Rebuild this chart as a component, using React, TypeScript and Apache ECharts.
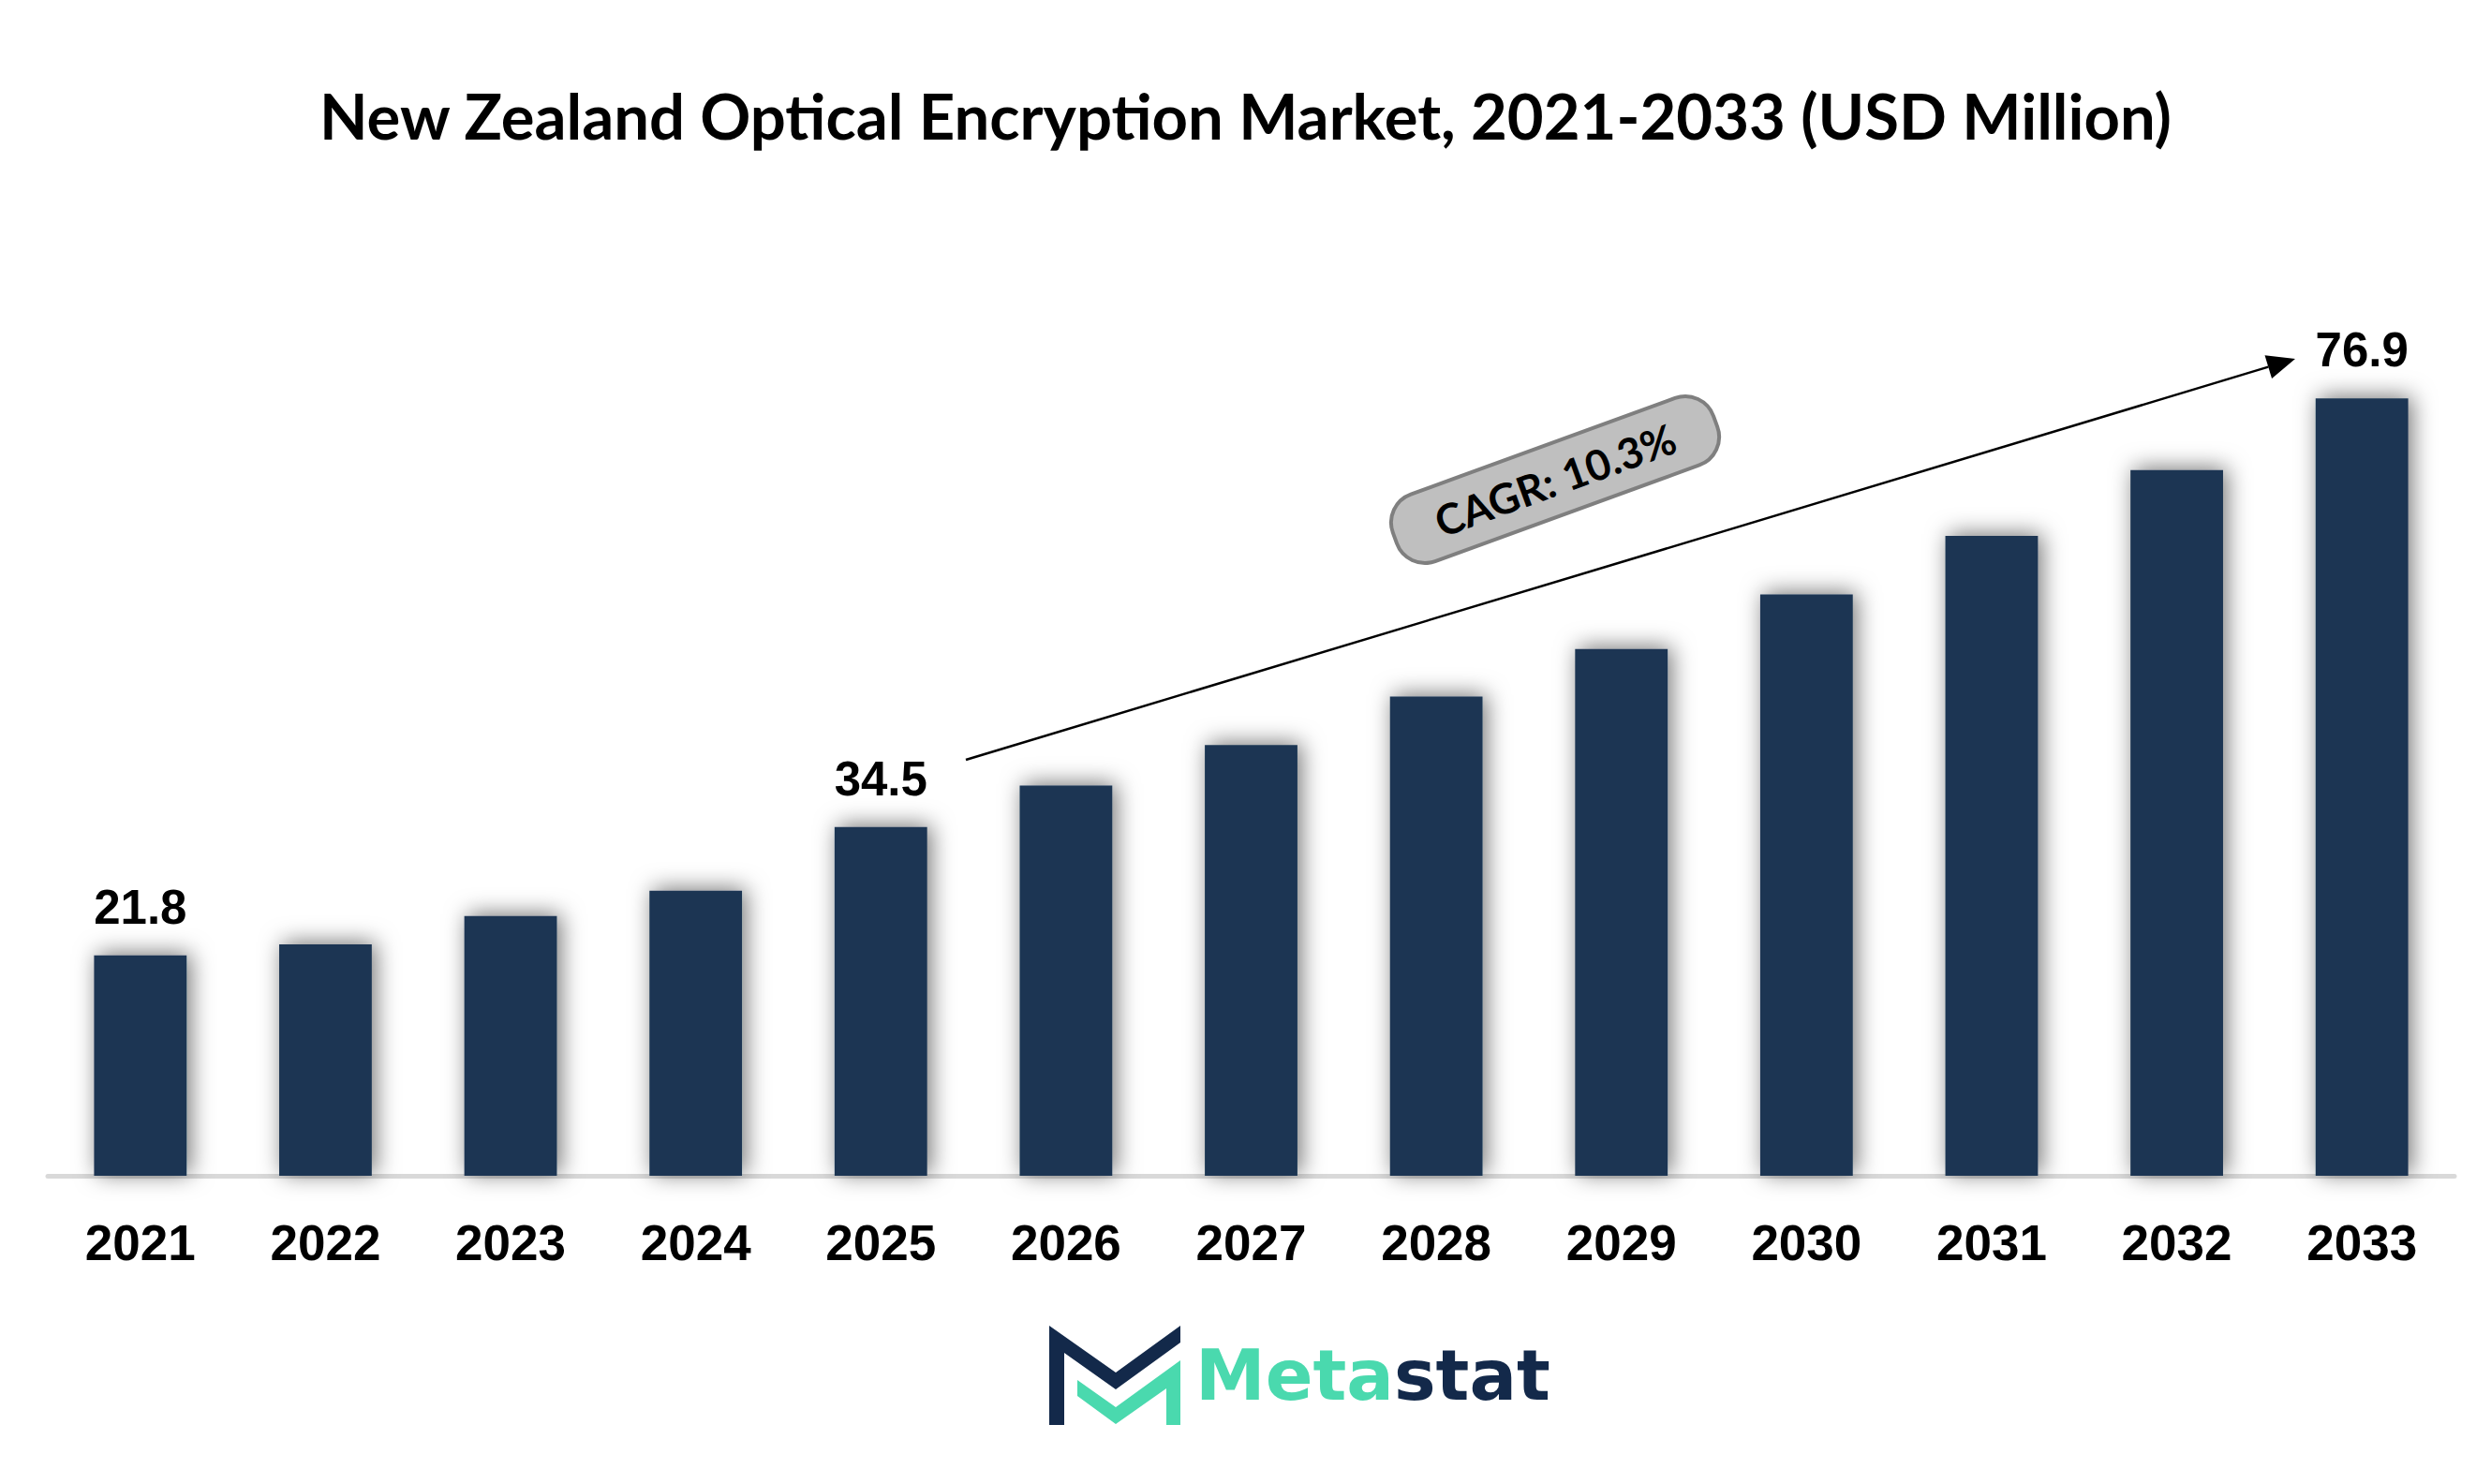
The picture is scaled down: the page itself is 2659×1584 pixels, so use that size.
import React, { useEffect, useRef } from "react";
import * as echarts from "echarts";

const years = ["2021", "2022", "2023", "2024", "2025", "2026", "2027", "2028", "2029", "2030", "2031", "2032", "2033"];
const marketValues = [21.8, 22.9, 25.7, 28.2, 34.5, 38.6, 42.6, 47.4, 52.1, 57.5, 63.3, 69.8, 76.9];
const labelledIndices = [0, 4, 12];
const titleText = "New Zealand Optical Encryption Market, 2021-2033 (USD Million)";
const cagrText = "CAGR: 10.3%";

const W = 2659;
const H = 1584;

export default function App() {
  const ref = useRef<HTMLDivElement>(null);
  useEffect(() => {
    document.body.style.margin = "0";
    document.body.style.overflow = "hidden";
    const chart = echarts.init(ref.current!, null, { renderer: "svg" });

    const tip = [2450, 383];
    const start = [1031, 811];
    const dx = tip[0] - start[0];
    const dy = tip[1] - start[1];
    const len = Math.sqrt(dx * dx + dy * dy);
    const ux = dx / len, uy = dy / len;
    const nx = -uy, ny = ux;
    const headLen = 30, headHalf = 13;
    const base = [tip[0] - headLen * ux, tip[1] - headLen * uy];

    chart.setOption({
      animation: false,
      backgroundColor: "#ffffff",
      title: {
        text: titleText,
        left: "center",
        top: 84,
        textStyle: {
          fontFamily: "Lato",
          fontWeight: "bold",
          fontSize: 67,
          color: "#000000",
        },
      },
      grid: { left: 51, right: 39, top: 176, bottom: 329, containLabel: false },
      xAxis: {
        type: "category",
        data: years,
        axisLine: { show: true, lineStyle: { color: "#d9d9d9", width: 5 } },
        axisTick: { show: false },
        axisLabel: {
          margin: 45,
          fontFamily: "Liberation Sans",
          fontWeight: "bold",
          fontSize: 53,
          color: "#000000",
        },
      },
      yAxis: {
        type: "value",
        min: 0,
        max: 100,
        show: false,
        splitLine: { show: false },
      },
      series: [
        {
          type: "bar",
          barCategoryGap: "50%",
          itemStyle: {
            color: "#1b3552",
            shadowBlur: 24,
            shadowColor: "rgba(0,0,0,0.55)",
            shadowOffsetX: 4,
            shadowOffsetY: -2,
          },
          label: {
            show: false,
            position: "top",
            distance: 26,
            fontFamily: "Liberation Sans",
            fontWeight: "bold",
            fontSize: 51,
            color: "#000000",
          },
          data: marketValues.map((v, i) => ({
            value: v,
            label: { show: labelledIndices.includes(i) },
          })),
        },
      ],
      graphic: [
        {
          type: "line",
          shape: { x1: start[0], y1: start[1], x2: base[0], y2: base[1] },
          style: { stroke: "#000000", lineWidth: 2.5 },
        },
        {
          type: "polygon",
          shape: {
            points: [
              [tip[0], tip[1]],
              [base[0] + headHalf * nx, base[1] + headHalf * ny],
              [base[0] - headHalf * nx, base[1] - headHalf * ny],
            ],
          },
          style: { fill: "#000000" },
        },
        {
          type: "group",
          x: 1660,
          y: 512,
          rotation: (20 * Math.PI) / 180,
          children: [
            {
              type: "rect",
              shape: { x: -182, y: -38, width: 364, height: 76, r: 32 },
              style: { fill: "#bfbfbf", stroke: "#7f7f7f", lineWidth: 4 },
            },
            {
              type: "text",
              x: 0,
              y: 0,
              style: {
                text: cagrText,
                x: 0,
                y: 0,
                align: "center",
                verticalAlign: "middle",
                fontFamily: "Lato",
                fontWeight: "bold",
                fontSize: 45,
                fill: "#000000",
              },
            },
          ],
        },
        {
          type: "polygon",
          shape: {
            points: [
              [1120, 1415], [1191, 1465], [1260, 1415], [1260, 1433],
              [1191, 1483], [1136, 1444], [1136, 1521], [1120, 1521],
            ],
          },
          style: { fill: "#13294a" },
        },
        {
          type: "polygon",
          shape: {
            points: [
              [1150, 1473], [1191, 1502], [1260, 1452], [1260, 1521],
              [1245, 1521], [1245, 1482], [1191, 1520], [1150, 1490],
            ],
          },
          style: { fill: "#4ad9ae" },
        },
        {
          type: "text",
          x: 1276,
          y: 1468,
          style: {
            text: "{g|Meta}{n|stat}",
            verticalAlign: "middle",
            align: "left",
            rich: {
              g: { fontFamily: "DejaVu Sans", fontWeight: "bold", fontSize: 75, fill: "#4ad9ae" },
              n: { fontFamily: "DejaVu Sans", fontWeight: "bold", fontSize: 75, fill: "#13294a" },
            },
          },
        },
      ],
    });
    return () => chart.dispose();
  }, []);
  return <div ref={ref} style={{ width: W, height: H }} />;
}
